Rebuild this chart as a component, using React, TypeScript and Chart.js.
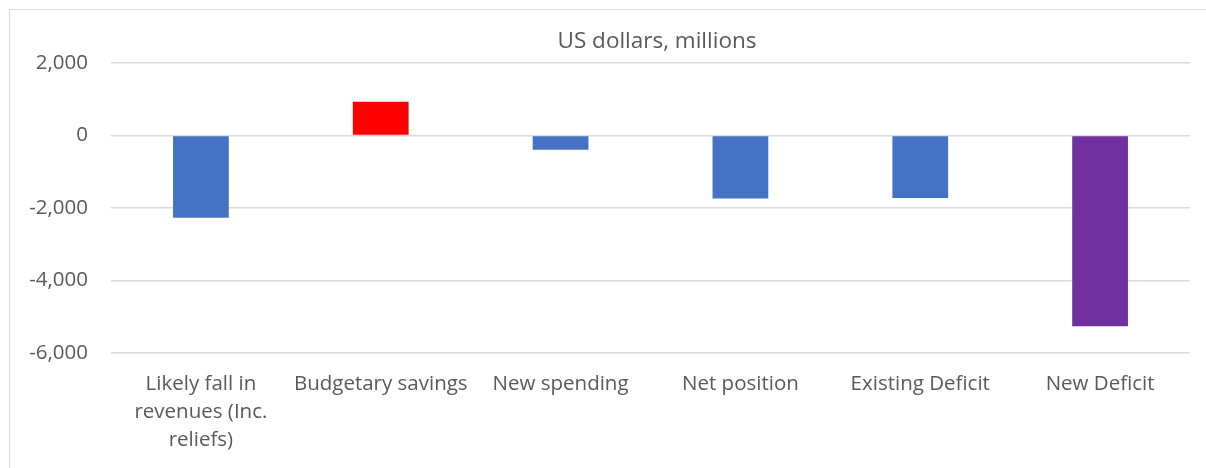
import { useEffect, useRef } from "react";
import { Chart, registerables } from "chart.js";

Chart.register(...registerables);

const categories: (string | string[])[] = [
  ["Likely fall in", "revenues (Inc.", "reliefs)"],
  "Budgetary savings",
  "New spending",
  "Net position",
  "Existing Deficit",
  "New Deficit",
];
const values = [-2270, 930, -395, -1740, -1725, -5260];
const barColors = ["#4472C4", "#FF0000", "#4472C4", "#4472C4", "#4472C4", "#7030A0"];
const chartTitle = "US dollars, millions";

const FONT = '"Open Sans", sans-serif';
const TEXT = "#595959";

// draws the title text where Excel left it (centred on the uncropped chart)
const titlePlugin = {
  id: "sheetTitle",
  afterDraw(chart: Chart) {
    const ctx = chart.ctx;
    ctx.save();
    ctx.font = `22.5px ${FONT}`;
    ctx.fillStyle = TEXT;
    ctx.textAlign = "center";
    ctx.textBaseline = "middle";
    ctx.fillText(chartTitle, 657, 42);
    ctx.restore();
  },
};

export default function App() {
  const chartRef = useRef<HTMLCanvasElement>(null);

  useEffect(() => {
    if (!chartRef.current) return;
    const ctx = chartRef.current.getContext("2d");
    if (!ctx) return;

    const chart = new Chart(ctx, {
      type: "bar",
      data: {
        labels: categories,
        datasets: [
          {
            label: chartTitle,
            data: values,
            backgroundColor: barColors,
            borderWidth: 0,
            categoryPercentage: 1,
            barPercentage: 0.31,
          },
        ],
      },
      options: {
        responsive: false,
        animation: false,
        layout: { padding: { left: 0, right: 16, top: 63, bottom: 0 } },
        plugins: {
          legend: { display: false },
          title: { display: false },
          tooltip: { enabled: false },
        },
        scales: {
          x: {
            grid: { display: false, drawTicks: false },
            border: { display: false },
            ticks: {
              color: TEXT,
              font: { family: FONT, size: 20.5, lineHeight: 1.36 },
              padding: 17,
              maxRotation: 0,
              autoSkip: false,
            },
            afterFit: (scale: any) => {
              scale.height = 115;
            },
          },
          y: {
            min: -6000,
            max: 2000,
            grid: { color: "#d9d9d9", lineWidth: 1.5, drawTicks: false },
            border: { display: false },
            ticks: {
              stepSize: 2000,
              color: TEXT,
              font: { family: FONT, size: 20.5 },
              padding: 23,
              callback: (v: any) => Number(v).toLocaleString("en-US"),
            },
            afterFit: (scale: any) => {
              scale.width = 111;
            },
          },
        },
      },
      plugins: [titlePlugin],
    });

    return () => {
      chart.destroy();
    };
  }, []);

  return (
    <div
      style={{
        position: "fixed",
        left: 0,
        top: 0,
        width: 1206,
        height: 468,
        overflow: "hidden",
        background: "#fff",
      }}
    >
      <canvas ref={chartRef} width={1206} height={468} style={{ position: "absolute", left: 0, top: 0 }} />
      <div
        style={{
          position: "absolute",
          left: 9,
          top: 9,
          width: 1300,
          height: 500,
          borderLeft: "1.5px solid #d9d9d9",
          borderTop: "1.5px solid #d9d9d9",
          pointerEvents: "none",
        }}
      />
    </div>
  );
}
